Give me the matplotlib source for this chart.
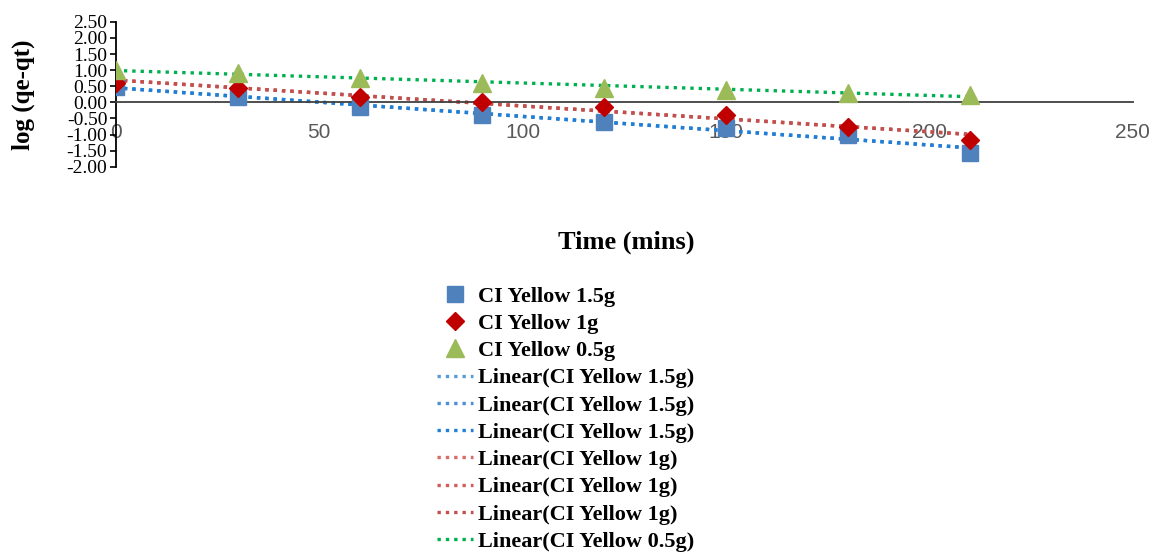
import numpy as np
import matplotlib.pyplot as plt

time_min = [0, 30, 60, 90, 120, 150, 180, 210]
yellow_15g = [0.48, 0.17, -0.14, -0.39, -0.60, -0.79, -1.00, -1.57]
yellow_1g = [0.60, 0.45, 0.17, 0.02, -0.14, -0.39, -0.76, -1.16]
yellow_05g = [1.00, 0.92, 0.76, 0.60, 0.45, 0.39, 0.30, 0.23]

y_ticks = [2.5, 2.0, 1.5, 1.0, 0.5, 0.0, -0.5, -1.0, -1.5, -2.0]
x_ticks = [0, 50, 100, 150, 200, 250]

fig = plt.figure(figsize=(11.56, 5.58), dpi=100)
ax = fig.add_axes([0.100, 0.701, 0.880, 0.260])

serif = ['Liberation Serif', 'DejaVu Serif']

series = [
    ('CI Yellow 1.5g', yellow_15g, 's', '#4F81BD', 12),
    ('CI Yellow 1g', yellow_1g, 'D', '#C00000', 9),
    ('CI Yellow 0.5g', yellow_05g, '^', '#9BBB59', 13),
]
handles = []
for name, vals, mk, col, ms in series:
    h, = ax.plot(time_min, vals, linestyle='none', marker=mk, color=col,
                 markersize=ms, label=name, zorder=3)
    handles.append(h)

# linear trendlines (Excel-style), several duplicated in the original
xfit = np.array([0, 210])
trend = [
    (yellow_15g, '#5B9BD5', 'Linear(CI Yellow 1.5g)'),
    (yellow_15g, '#4A8FD8', 'Linear(CI Yellow 1.5g)'),
    (yellow_15g, '#1F7FD6', 'Linear(CI Yellow 1.5g)'),
    (yellow_1g, '#D86A6A', 'Linear(CI Yellow 1g)'),
    (yellow_1g, '#D25C5C', 'Linear(CI Yellow 1g)'),
    (yellow_1g, '#C0504D', 'Linear(CI Yellow 1g)'),
    (yellow_05g, '#00B050', 'Linear(CI Yellow 0.5g)'),
]
for vals, col, name in trend:
    m, b = np.polyfit(time_min, vals, 1)
    h, = ax.plot(xfit, m * xfit + b, linestyle=(0, (1, 1.5)), color=col,
                 linewidth=2.4, label=name, zorder=2)
    handles.append(h)

ax.set_xlim(0, 250)
ax.set_ylim(-2.0, 2.5)
ax.spines['left'].set_position(('data', 0))
ax.spines['bottom'].set_position(('data', 0))
ax.spines['top'].set_visible(False)
ax.spines['right'].set_visible(False)
ax.spines['bottom'].set_color('#404040')
ax.spines['bottom'].set_linewidth(1.3)
ax.spines['left'].set_linewidth(1.3)

ax.set_xticks(x_ticks)
ax.set_xticklabels([str(t) for t in x_ticks], fontsize=15, color='#595959',
                   family=['Liberation Sans', 'DejaVu Sans'])
ax.tick_params(axis='x', length=0, pad=15)
ax.set_yticks(y_ticks)
ax.set_yticklabels([f'{t:.2f}' for t in y_ticks], fontsize=14,
                   family=serif)
ax.tick_params(axis='y', length=4, width=1.2, pad=2)

fig.text(0.020, 0.83, 'log (qe-qt)', rotation=90, ha='center', va='center',
         fontsize=18, fontweight='bold', family=serif)
fig.text(0.542, 0.566, 'Time (mins)', ha='center', va='center',
         fontsize=19, fontweight='bold', family=serif)

fig.legend(handles=handles, loc='upper left', bbox_to_anchor=(0.378, 0.487),
           frameon=False, prop={'family': serif, 'size': 16, 'weight': 'bold'},
           handlelength=1.6, handletextpad=0.25, labelspacing=0.30,
           borderaxespad=0, borderpad=0)

fig.savefig('out.png', dpi=100)
